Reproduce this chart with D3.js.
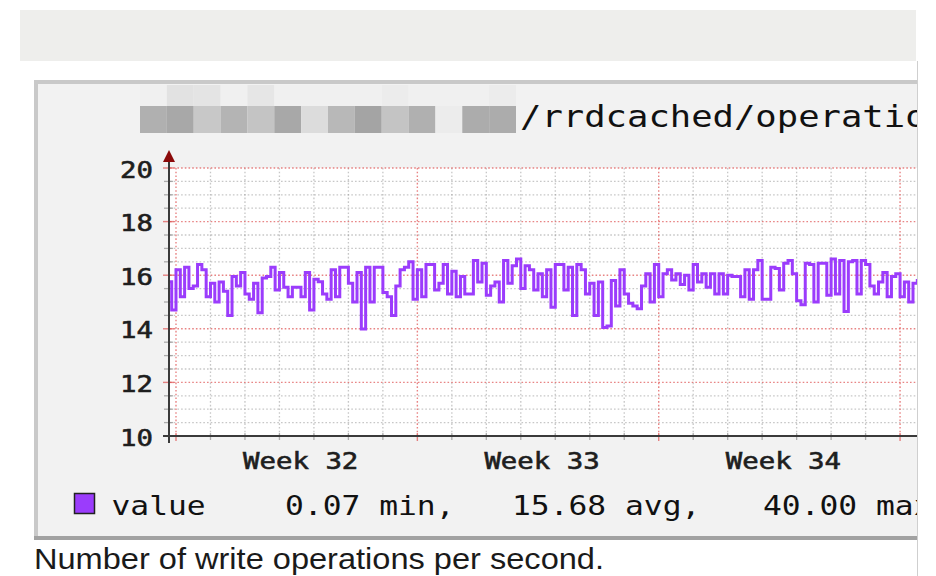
<!DOCTYPE html>
<html><head><meta charset="utf-8">
<script src="https://cdn.jsdelivr.net/npm/d3@7"></script>
<style>html,body{margin:0;padding:0;background:#fff;} svg{display:block}</style>
</head><body>
<svg id="c" width="936" height="576"></svg>
<script>
// ---- data (3-hour steps, starting 6 h before Monday of week 32) ----
const startDay = -0.25;
const stepDays = 0.125;
const values = [
 15.76,14.7,16.2,15.2,16.3,15.5,15.6,16.4,16.2,15.2,15.7,15.0,15.75,15.4,14.5,15.95,15.6,16.1,15.3,15.1,15.7,14.6,15.9,15.95,16.3,15.45,16.1,15.55,15.2,15.55,15.55,15.2,16.1,14.7,15.85,
 15.76,15.3,15.1,16.2,15.2,16.3,16.3,15.7,15.0,16.1,13.99,16.3,15.0,16.3,16.3,15.35,15.2,14.5,15.6,16.2,16.3,16.5,15.1,16.2,15.2,16.4,16.4,15.45,15.7,16.4,15.3,16.15,15.2,15.95,
 15.3,15.3,16.55,15.75,16.45,15.25,15.6,15.75,15.0,16.55,15.7,16.35,16.6,15.5,16.35,16.2,15.45,16.05,15.2,16.2,14.8,16.4,16.4,15.45,16.3,14.5,16.4,16.2,15.3,15.7,14.5,15.75,14.05,14.1,15.8,
 14.85,16.2,15.3,14.95,14.85,14.75,15.6,16.05,15.0,16.4,15.2,16.05,16.2,15.82,16.05,15.65,16.0,15.45,16.4,15.75,16.05,15.55,16.05,15.3,16.05,15.3,16.0,15.95,15.95,15.2,16.2,15.1,16.2,16.55,15.1,
 15.1,16.3,16.25,15.45,16.45,16.55,16.05,15.05,14.9,16.45,16.4,15.0,16.45,16.45,15.25,16.6,15.3,16.55,14.65,16.5,16.55,15.3,16.55,16.4,15.6,15.3,15.75,16.1,15.2,15.95,16.05,15.2,15.75,15.0,15.7,15.8
];
const yTicks = [10, 12, 14, 16, 18, 20];
const yMinorStep = 0.5;
const weekStarts = [0, 7, 14, 21];
const weekLabels = ["Week 32", "Week 33", "Week 34"];
const legendName = "value";
const legendStats = ["0.07 min,", "15.68 avg,", "40.00 max"];
const titleText = "/rrdcached/operations";
const captionText = "Number of write operations per second.";
// redacted host-name mosaic shades (grey levels)
const mosaicMain = [0xb0,0xa8,0xc8,0xb4,0xc4,0xa8,0xdc,0xb8,0xa4,0xc4,0xb0,0xec,0xac,0xac];
const mosaicTop  = [0xf0,0xe2,0xe4,0xf0,0xe6,0xf0,0xf0,0xf0,0xf0,0xec,0xf0,0xf0,0xf0,0xec];

// ---- drawing ----
const svg = d3.select("#c");
const mono = "'DejaVu Sans Mono', monospace";
const purple = "#9b3cfc";
const sx = 1.19;

const x = d3.scaleLinear().domain([-0.174, 21.52]).range([170, 918]);
const y = d3.scaleLinear().domain([10, 20]).range([436, 168]);

// top blurred band
svg.append("rect").attr("x", 20).attr("y", 10).attr("width", 896).attr("height", 51).attr("fill", "#eeeeec");

// graph frame
svg.append("rect").attr("x", 34).attr("y", 80).attr("width", 902).attr("height", 460).attr("fill", "#f2f2f2");
svg.append("rect").attr("x", 34).attr("y", 80).attr("width", 902).attr("height", 4).attr("fill", "#c9c9c9");
svg.append("rect").attr("x", 34).attr("y", 80).attr("width", 4).attr("height", 460).attr("fill", "#c9c9c9");
svg.append("rect").attr("x", 34).attr("y", 536).attr("width", 902).attr("height", 4).attr("fill", "#a2a2a2");

// mosaic
const mb = d3.scaleBand().domain(d3.range(mosaicMain.length)).range([140, 516]);
const g2 = v => d3.rgb(v, v, v).toString();
svg.append("g").selectAll("rect").data(mosaicTop).join("rect")
  .attr("x", (d, i) => mb(i)).attr("y", 85).attr("width", mb.bandwidth()).attr("height", 21).attr("fill", g2);
svg.append("g").selectAll("rect").data(mosaicMain).join("rect")
  .attr("x", (d, i) => mb(i)).attr("y", 106).attr("width", mb.bandwidth()).attr("height", 27).attr("fill", g2);

// title
svg.append("text").attr("transform", `translate(520,127) scale(1.205,1)`)
  .attr("font-family", mono).attr("font-size", 29.5).attr("fill", "#111").text(titleText);

// canvas
const [x0, x1] = [170, 936];
svg.append("rect").attr("x", x0).attr("y", y(20)).attr("width", x1 - x0).attr("height", y(10) - y(20)).attr("fill", "#fff");

const gridG = svg.append("g");
const minorY = d3.range(10, 20.001, yMinorStep).filter(v => !yTicks.includes(v));
const days = d3.range(0, 25).filter(d => !weekStarts.includes(d));
const grey = "rgba(143,143,143,0.5)";
const red = "rgba(222,80,80,0.7)";
// minor grid
gridG.selectAll(".hm").data(minorY).join("line")
  .attr("x1", x0).attr("x2", x1).attr("y1", d => y(d)).attr("y2", d => y(d))
  .attr("stroke", grey).attr("stroke-width", 1.3).attr("stroke-dasharray", "1.6,2.1");
gridG.selectAll(".vm").data(days).join("line")
  .attr("x1", d => x(d)).attr("x2", d => x(d)).attr("y1", y(20)).attr("y2", y(10))
  .attr("stroke", grey).attr("stroke-width", 1.3).attr("stroke-dasharray", "1.6,2.1");
// major grid
gridG.selectAll(".hM").data(yTicks).join("line")
  .attr("x1", x0).attr("x2", x1).attr("y1", d => y(d)).attr("y2", d => y(d))
  .attr("stroke", red).attr("stroke-width", 1.4).attr("stroke-dasharray", "1.6,2.1");
gridG.selectAll(".vM").data(weekStarts).join("line")
  .attr("x1", d => x(d)).attr("x2", d => x(d)).attr("y1", y(20)).attr("y2", y(10))
  .attr("stroke", red).attr("stroke-width", 1.4).attr("stroke-dasharray", "1.6,2.1");
// ticks
gridG.selectAll(".tm").data(days).join("line")
  .attr("x1", d => x(d)).attr("x2", d => x(d)).attr("y1", y(10) - 3).attr("y2", y(10) + 4)
  .attr("stroke", "rgba(143,143,143,0.7)").attr("stroke-width", 1.3);
gridG.selectAll(".tM").data(weekStarts).join("line")
  .attr("x1", d => x(d)).attr("x2", d => x(d)).attr("y1", y(10) - 3).attr("y2", y(10) + 5)
  .attr("stroke", red).attr("stroke-width", 1.4);
gridG.selectAll(".ty").data(minorY).join("line")
  .attr("x1", 164).attr("x2", 173).attr("y1", d => y(d)).attr("y2", d => y(d))
  .attr("stroke", "rgba(143,143,143,0.7)").attr("stroke-width", 1.3);
gridG.selectAll(".tY").data(yTicks).join("line")
  .attr("x1", 163).attr("x2", 174).attr("y1", d => y(d)).attr("y2", d => y(d))
  .attr("stroke", red).attr("stroke-width", 1.4);

// data line
svg.append("clipPath").attr("id", "pc").append("rect")
  .attr("x", 170).attr("y", y(20) - 2).attr("width", 766).attr("height", y(10) - y(20) + 4);
const pts = values.map((v, i) => [startDay + i * stepDays, v]);
pts.push([startDay + values.length * stepDays, values[values.length - 1]]);
const line = d3.line().x(d => x(d[0])).y(d => y(d[1])).curve(d3.curveStepAfter);
svg.append("path").attr("clip-path", "url(#pc)").attr("d", line(pts))
  .attr("fill", "none").attr("stroke", purple).attr("stroke-width", 3).attr("stroke-linejoin", "miter");

// axes
svg.append("line").attr("x1", 163).attr("x2", 936).attr("y1", y(10)).attr("y2", y(10))
  .attr("stroke", "#3a3a3a").attr("stroke-width", 2);
svg.append("line").attr("x1", 169).attr("x2", 169).attr("y1", y(10) + 7).attr("y2", 158)
  .attr("stroke", "#3a3a3a").attr("stroke-width", 2);
svg.append("path").attr("d", "M163,162 L175,162 L169,150 Z").attr("fill", "#8b0a0a");

// y tick labels
svg.append("g").selectAll("text").data(yTicks).join("text")
  .attr("transform", d => `translate(153,${y(d) + 9.5}) scale(${sx},1)`)
  .attr("text-anchor", "end").attr("font-family", mono).attr("font-size", 23)
  .attr("fill", "#1e1e1e").attr("stroke", "#1e1e1e").attr("stroke-width", 0.6).text(d => d);

// week labels
svg.append("g").selectAll("text").data(weekLabels).join("text")
  .attr("transform", (d, i) => `translate(${x(weekStarts[i] + 3.5) + 4},469) scale(${sx},1)`)
  .attr("text-anchor", "middle").attr("font-family", mono).attr("font-size", 23)
  .attr("fill", "#1e1e1e").attr("stroke", "#1e1e1e").attr("stroke-width", 0.6).text(d => d);

// legend
svg.append("rect").attr("x", 74.5).attr("y", 493.5).attr("width", 20).attr("height", 20)
  .attr("fill", purple).attr("stroke", "#222").attr("stroke-width", 1.5);
svg.append("text").attr("transform", `translate(111.5,515) scale(${sx},1)`)
  .attr("font-family", mono).attr("font-size", 26.3).attr("fill", "#111").text(legendName);
const statX = [285, 512, 763];
svg.append("g").selectAll("text").data(legendStats).join("text")
  .attr("transform", (d, i) => `translate(${statX[i]},515) scale(${sx},1)`)
  .attr("font-family", mono).attr("font-size", 26.3).attr("fill", "#111").text(d => d);

// caption
svg.append("text").attr("x", 34).attr("y", 569)
  .attr("font-family", "'Liberation Sans', Arial, sans-serif").attr("font-size", 29)
  .attr("textLength", 570).attr("lengthAdjust", "spacingAndGlyphs")
  .attr("fill", "#1a1a1a").text(captionText);

// page edge on the right
svg.append("rect").attr("x", 918).attr("y", 0).attr("width", 18).attr("height", 576).attr("fill", "#fff");
svg.append("line").attr("x1", 917.5).attr("x2", 917.5).attr("y1", 61).attr("y2", 576)
  .attr("stroke", "#cfcfcf").attr("stroke-width", 1);
</script>
</body></html>
